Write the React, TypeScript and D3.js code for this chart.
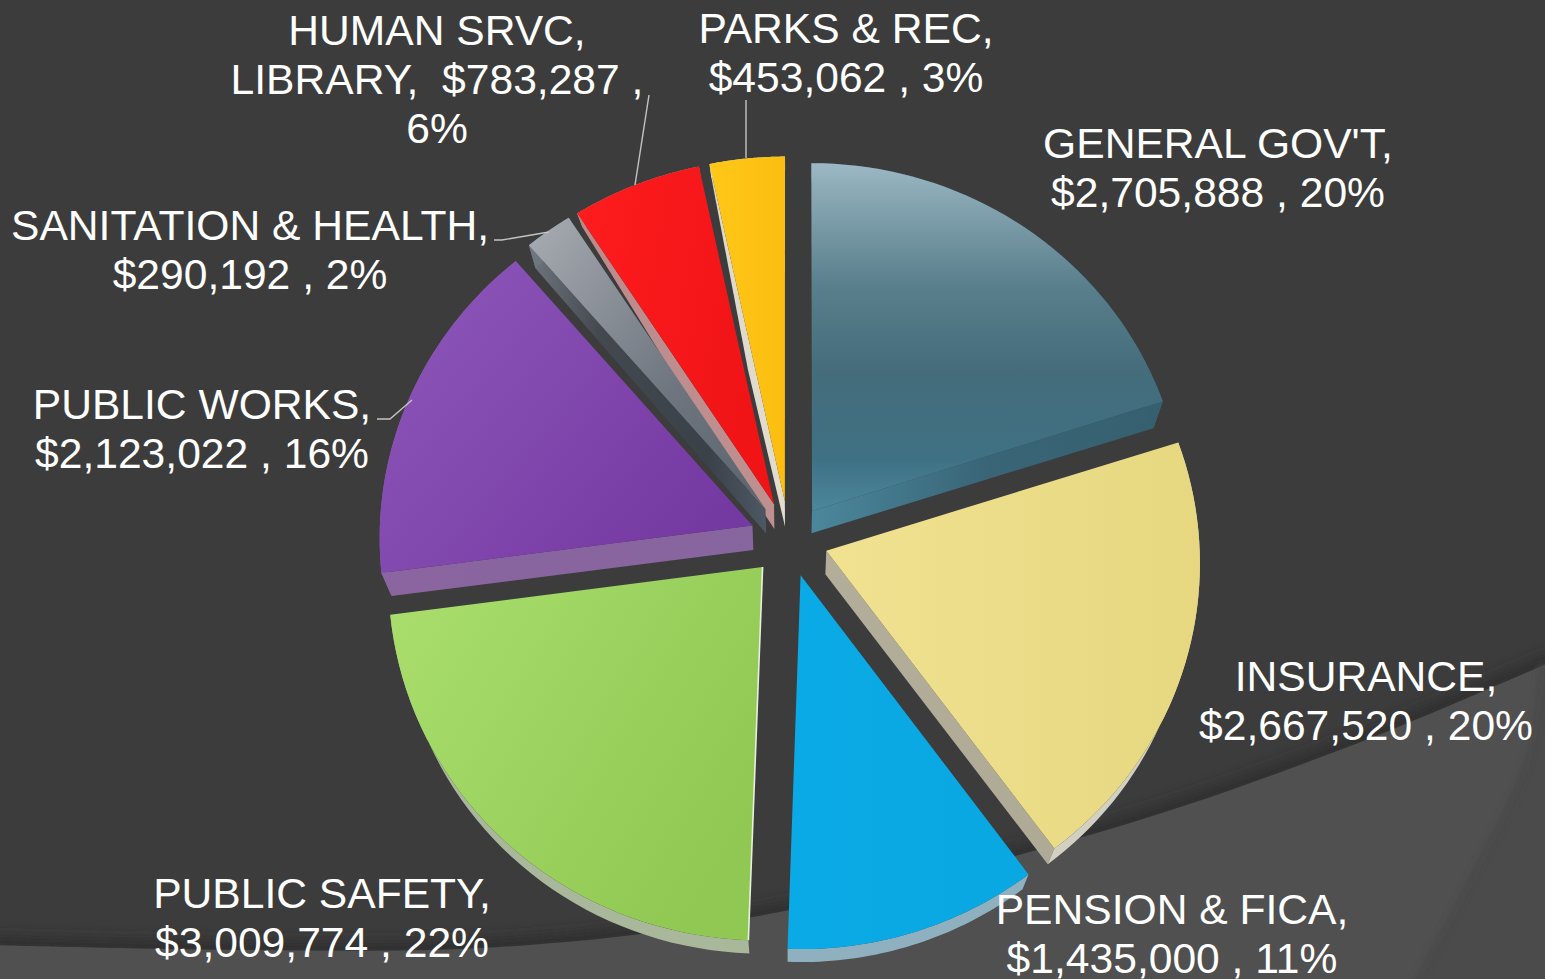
import React from "react";
import * as d3 from "d3";

const width = 1545;
const height = 979;

// data, clockwise from 12 o'clock
const categories = ["GENERAL GOV'T", "INSURANCE", "PENSION & FICA", "PUBLIC SAFETY", "PUBLIC WORKS", "SANITATION & HEALTH", "HUMAN SRVC, LIBRARY", "PARKS & REC"];
const values = [2705888, 2667520, 1435000, 3009774, 2123022, 290192, 783287, 453062];

const total = d3.sum(values);
const money = d3.format("$,");
const pct = d3.format(".0%");

// label placement: centre x, first baseline
const labelX = [1218, 1366, 1172, 322, 202, 250, 437, 846];
const labelY = [158, 691, 924, 908, 419, 240, 45, 43];

const labelLines = (i: number) => {
  const m = money(values[i]);
  const p = pct(values[i] / total);
  if (i === 6) return ["HUMAN SRVC,", `LIBRARY,  ${m} ,`, p];
  return [categories[i] + ",", `${m} , ${p}`];
};

// leader lines (from label to slice)
const leaders: [number, number][][] = [
  [[635, 185], [649, 95]],
  [[746, 158], [746, 100]],
  [[549, 232], [502, 240], [494, 240]],
  [[412, 400], [390, 419], [377, 419]],
];

// top face gradients: [x1,y1,x2,y2, stops]
const topFill: any[] = [
  [0, 0, 0, 1, [[0, "#9cb8c4"], [0.12, "#83a3af"], [0.35, "#5a7f8c"], [0.6, "#446c7b"], [0.85, "#3f7184"], [1, "#4b879c"]]],
  [0, 0, 1, 0, [[0, "#f1e292"], [1, "#e6d780"]]],
  [0, 0, 1, 0, [[0, "#0aaae6"], [1, "#0aa8e2"]]],
  [0, 0, 1, 0.6, [[0, "#aadf6e"], [1, "#90c853"]]],
  [0, 0, 1, 0.7, [[0, "#8e58bb"], [1, "#7539a2"]]],
  [0, 0, 1, 1, [[0, "#a8acb3"], [0.6, "#6e757e"], [1, "#5a646e"]]],
  [0, 0, 1, 0.3, [[0, "#fe1c1e"], [1, "#f01417"]]],
  [0, 0, 1, 0, [[0, "#ffc718"], [1, "#fbbe10"]]],
];
// which radial edge shows a wall, and its colours left to right
const wallEdge = ["end", "end", null, "start", "start", "start", "start", "start"];
const wallFill: [number, string][][] = [
  [[0, "#4b879c"], [0.5, "#396577"], [1, "#36606f"]],
  [[0, "#b2ae9a"], [1, "#aeaa96"]],
  [[0, "#8fb0bf"]],
  [[0, "#e9efe0"]],
  [[0, "#8a659f"], [1, "#87659f"]],
  [[0, "#70767e"], [0.3, "#43494f"], [0.75, "#3b4149"], [1, "#4d5864"]],
  [[0, "#bd8a8a"], [1, "#bf9090"]],
  [[0, "#ddd8c8"], [1, "#e2ddcf"]],
];
const arcWall = ["#36606f", "#d2d0c2", "#8fb0bf", "#a9b79a", "#8a659f", "#70767e", "#bd8a8a", "#ddd8c8"];
const drawOrder = [0, 7, 6, 5, 4, 1, 3, 2];
// small corrections
const apexDrop = [2.5, 0, 0, 0, 0, 0, 0, 0];
const wallBulge = [0, 0, 0, 0, 0, 0, 3, 4];

// perspective of the tilted pie
const cx = 789;
const cy = 539;
const explode = 0.105;
const project = (X: number, Y: number): [number, number] => [
  cx + X * (373 + 12 * Y),
  cy + 359.5 * Y + 12 * Y * Y,
];
const depth = d3.scaleLinear().domain([-1.1, -0.93, -0.85, -0.4, 0, 1.1]).range([14, 14, 23, 27, 24, 13]);
const projectLow = (X: number, Y: number): [number, number] => {
  const [x, y] = project(X, Y);
  return [x - (x - cx) * 0.025, y + depth(Y)];
};

const slices = d3.pie<number>().sort(null).value((d) => d)(values);
const line = d3.line();
const closed = (pts: [number, number][]) => line(pts) + "Z";

const sliceGeom = (s: d3.PieArcDatum<number>, i: number) => {
  const mid = (s.startAngle + s.endAngle) / 2;
  const ox = explode * Math.sin(mid);
  const oy = -explode * Math.cos(mid);
  const model = (a: number): [number, number] => [ox + Math.sin(a), oy - Math.cos(a)];
  const angles = d3.range(0, 41).map((k) => s.startAngle + ((s.endAngle - s.startAngle) * k) / 40);
  const rim = angles.map(model);
  const hi = rim.map(([X, Y]) => project(X, Y));
  const lo = rim.map(([X, Y]) => projectLow(X, Y));
  const a0 = project(ox, oy);
  const apexHi: [number, number] = [a0[0], a0[1] + apexDrop[i]];
  const apexLo = projectLow(ox, oy);
  return { hi, lo, apexHi, apexLo };
};

// side wall along one radial edge, pushed out a little at its middle where the picture does it
const edgeWall = (apexHi: [number, number], apexLo: [number, number], h: [number, number], l: [number, number], bulge: number) => {
  const midLow: [number, number] = [(apexLo[0] * 0.55 + l[0] * 0.45) - bulge, apexLo[1] * 0.55 + l[1] * 0.45];
  return closed([apexHi, h, l, midLow, apexLo]);
};

const swoosh = d3.line().curve(d3.curveCatmullRom)([
  [-10, 945], [250, 950], [500, 947], [753, 917], [1100, 832], [1345, 748], [1555, 660],
])!;
const swoosh2 = d3.line().curve(d3.curveCatmullRom)([
  [1545, 665], [1532, 757], [1478, 873], [1418, 985],
])!;

export default function App() {
  return (
    <svg
      width={width}
      height={height}
      viewBox={`0 0 ${width} ${height}`}
      style={{ position: "absolute", left: 0, top: 0, display: "block" }}
    >
      <defs>
        <filter id="blur" x="-10%" y="-10%" width="120%" height="120%">
          <feGaussianBlur stdDeviation="7" />
        </filter>
        <filter id="blur2" x="-30%" y="-10%" width="160%" height="120%">
          <feGaussianBlur stdDeviation="3" />
        </filter>
        {topFill.map(([x1, y1, x2, y2, stops], i) => (
          <linearGradient key={i} id={`top${i}`} x1={x1} y1={y1} x2={x2} y2={y2}>
            {stops.map(([o, c]: [number, string]) => (
              <stop key={o} offset={o} stopColor={c} />
            ))}
          </linearGradient>
        ))}
        {wallFill.map((stops, i) => (
          <linearGradient key={i} id={`wall${i}`} x1={0} y1={0} x2={1} y2={0}>
            {stops.map(([o, c]) => (
              <stop key={o} offset={o} stopColor={c} />
            ))}
          </linearGradient>
        ))}
      </defs>

      {/* background */}
      <rect width={width} height={height} fill="#3c3c3c" />
      <path d={swoosh} fill="none" stroke="#2c2c2c" strokeWidth={16} filter="url(#blur)" opacity={0.8} />
      <path d={`${swoosh}L1555,990L-10,990Z`} fill="#505050" />
      <path d={`${swoosh2}L1555,985L1555,660Z`} fill="#4b4b4b" />
      <path d={swoosh2} fill="none" stroke="#464646" strokeWidth={5} filter="url(#blur2)" transform="translate(-3,-1)" />

      {/* slices, back to front */}
      {drawOrder.map((i) => {
        const g = sliceGeom(slices[i], i);
        const n = g.hi.length - 1;
        const edge = wallEdge[i];
        return (
          <g key={categories[i]}>
            {edge === "start" && i !== 3 && (
              <path d={edgeWall(g.apexHi, g.apexLo, g.hi[0], g.lo[0], wallBulge[i])} fill={`url(#wall${i})`} />
            )}
            {edge === "end" && (
              <path d={edgeWall(g.apexHi, g.apexLo, g.hi[n], g.lo[n], wallBulge[i])} fill={`url(#wall${i})`} />
            )}
            <path d={closed([...g.hi, ...[...g.lo].reverse()])} fill={arcWall[i]} />
            <path d={closed([g.apexHi, ...g.hi])} fill={`url(#top${i})`} />
            {i === 3 && (
              <path d={line([g.apexHi, g.hi[0]])!} fill="none" stroke="#e9efe0" strokeWidth={1.6} />
            )}
          </g>
        );
      })}

      {/* leader lines */}
      {leaders.map((pts, i) => (
        <path key={i} d={line(pts)!} fill="none" stroke="#c4c4c4" strokeWidth={1.4} />
      ))}

      {/* labels */}
      {categories.map((c, i) => (
        <text
          key={c}
          x={labelX[i]}
          textAnchor="middle"
          fontFamily="'Liberation Sans', Arial, sans-serif"
          fontSize={42.6}
          fill="#ffffff"
          style={{ whiteSpace: "pre" }}
        >
          {labelLines(i).map((t, k) => (
            <tspan key={k} x={labelX[i]} y={labelY[i] + k * 49}>
              {t}
            </tspan>
          ))}
        </text>
      ))}
    </svg>
  );
}
